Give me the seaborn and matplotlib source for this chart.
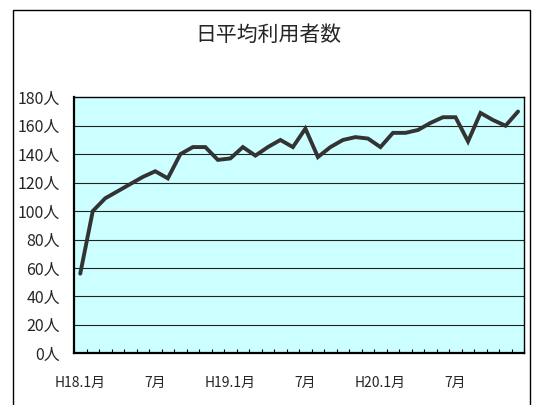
import numpy as np
import pandas as pd
import matplotlib
matplotlib.use("Agg")
import matplotlib.pyplot as plt
import seaborn as sns
from matplotlib.patches import Rectangle

# === Data (H18.1 - H20.12, monthly) ===
months = list(range(36))
users = [56, 100, 109, 114, 119, 124, 128, 123, 140, 145, 145, 136,
         137, 145, 139, 145, 150, 145, 158, 138, 145, 150, 152, 151,
         145, 155, 155, 157, 162, 166, 166, 149, 169, 164, 160, 170]
tick_pos = [0, 6, 12, 18, 24, 30]
tick_labels = ["H18.1月", "7月", "H19.1月", "7月", "H20.1月", "7月"]
yticks = list(range(0, 181, 20))
ytick_labels = [f"{v}人" for v in yticks]

df = pd.DataFrame({"month": months, "users": users})

sns.set_style("white")
plt.rcParams["font.family"] = ["Noto Sans CJK JP", "DejaVu Sans"]

W, H = 536, 405
fig = plt.figure(figsize=(W / 100, H / 100), dpi=100)
fig.patch.set_facecolor("white")

# outer chart frame
fig.add_artist(Rectangle((13 / W, -0.05), (530 - 13) / W, (H - 10) / H + 0.05,
                         transform=fig.transFigure, fill=False,
                         edgecolor="black", linewidth=1.0))

ax = fig.add_axes([74 / W, (H - 353.3) / H, (524.3 - 74) / W, (353.3 - 97.3) / H])
ax.set_facecolor("#CCFFFF")

sns.lineplot(data=df, x="month", y="users", ax=ax, color="#333333",
             linewidth=2.8, solid_joinstyle="miter", zorder=3)

ax.set_xlim(-0.5, 35.5)
ax.set_ylim(0, 180)
ax.set_yticks(yticks)
ax.set_yticklabels(ytick_labels, fontsize=11.5)
ax.set_xticks(tick_pos)
ax.set_xticklabels(tick_labels, fontsize=10)
ax.set_xticks(np.arange(-0.5, 36, 1), minor=True)
ax.tick_params(axis="x", which="major", length=0, pad=16)
ax.tick_params(axis="x", which="minor", direction="in", length=3,
               width=0.8, color="black", bottom=True)
ax.tick_params(axis="y", length=0, pad=10)

for v in yticks[1:-1]:
    ax.axhline(v, color="#222222", linewidth=0.8, zorder=1)

for side in ["left", "bottom"]:
    ax.spines[side].set_linewidth(1.6)
    ax.spines[side].set_color("black")
for side in ["top", "right"]:
    ax.spines[side].set_visible(True)
    ax.spines[side].set_linewidth(1.0)
    ax.spines[side].set_color("black")

ax.set_xlabel("")
ax.set_ylabel("")

fig.text(268 / W, 1 - 35 / H, "日平均利用者数", ha="center", va="center",
         fontsize=15)

fig.savefig("out.png", dpi=100)
